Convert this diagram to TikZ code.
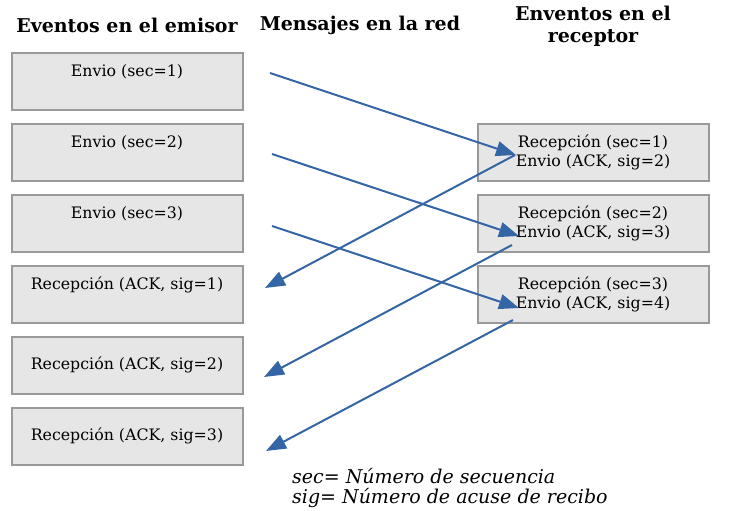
\documentclass[tikz,border=0pt]{standalone}
\usepackage{fontspec}
\setmainfont{DejaVu Serif}
\usetikzlibrary{arrows.meta}
\definecolor{boxfill}{HTML}{E6E6E6}
\definecolor{boxline}{HTML}{999999}
\definecolor{arrowblue}{HTML}{3465A4}
\begin{document}
\begin{tikzpicture}[x=1pt,y=-1pt,
  evbox/.style={draw=boxline,line width=2pt,fill=boxfill,minimum width=231pt,minimum height=57pt,inner sep=0pt,anchor=north west},
  evtext/.style={font=\fontsize{15.8}{19}\selectfont,align=center,inner sep=0pt},
  head/.style={font=\fontsize{19}{22}\selectfont\bfseries,align=center,inner sep=0pt},
  msg/.style={draw=arrowblue,line width=2pt,-{Triangle[length=20pt,width=15pt]}},
  legend/.style={font=\fontsize{19}{22}\selectfont\itshape,anchor=west,inner sep=0pt}]
\useasboundingbox (0,0) rectangle (729,511);
% headers
\node[head] (h1) at (127,25.5) {Eventos en el emisor};
\node[head] (h2) at (360,25.5) {Mensajes en la red};
\node[head] (h3) at (593,26) {Enventos en el\\receptor};
% sender boxes
\node[evbox] (s1) at (11,52) {};
\node[evbox] (s2) at (11,123) {};
\node[evbox] (s3) at (11,194) {};
\node[evbox] (s4) at (11,265) {};
\node[evbox] (s5) at (11,336) {};
\node[evbox] (s6) at (11,407) {};
\node[evtext] (t1) at (127,72) {Envio (sec=1)};
\node[evtext] (t2) at (127,143) {Envio (sec=2)};
\node[evtext] (t3) at (127,214) {Envio (sec=3)};
\node[evtext] (t4) at (127,285) {Recepción (ACK, sig=1)};
\node[evtext] (t5) at (127,365) {Recepción (ACK, sig=2)};
\node[evtext] (t6) at (127,436) {Recepción (ACK, sig=3)};
% receiver boxes
\node[evbox] (r1) at (477,123) {};
\node[evbox] (r2) at (477,194) {};
\node[evbox] (r3) at (477,265) {};
\node[evtext] (u1) at (593,152.5) {Recepción (sec=1)\\Envio (ACK, sig=2)};
\node[evtext] (u2) at (593,223.5) {Recepción (sec=2)\\Envio (ACK, sig=3)};
\node[evtext] (u3) at (593,294.5) {Recepción (sec=3)\\Envio (ACK, sig=4)};
% arrow ends
\coordinate (a1) at (270,73);
\coordinate (b1) at (516,155);
\coordinate (a2) at (272,154);
\coordinate (b2) at (519,236);
\coordinate (a3) at (272,226);
\coordinate (b3) at (519,308);
\coordinate (c1) at (515,155);
\coordinate (d1) at (265,288);
\coordinate (c2) at (512,245);
\coordinate (d2) at (264,377);
\coordinate (c3) at (513,320);
\coordinate (d3) at (266,451);
\draw[msg] (a1) -- (b1);
\draw[msg] (a2) -- (b2);
\draw[msg] (a3) -- (b3);
\draw[msg] (c1) -- (d1);
\draw[msg] (c2) -- (d2);
\draw[msg] (c3) -- (d3);
% legend
\node[legend] (l1) at (292,476) {sec= Número de secuencia};
\node[legend] (l2) at (292,498) {sig= Número de acuse de recibo};
\end{tikzpicture}
\end{document}
